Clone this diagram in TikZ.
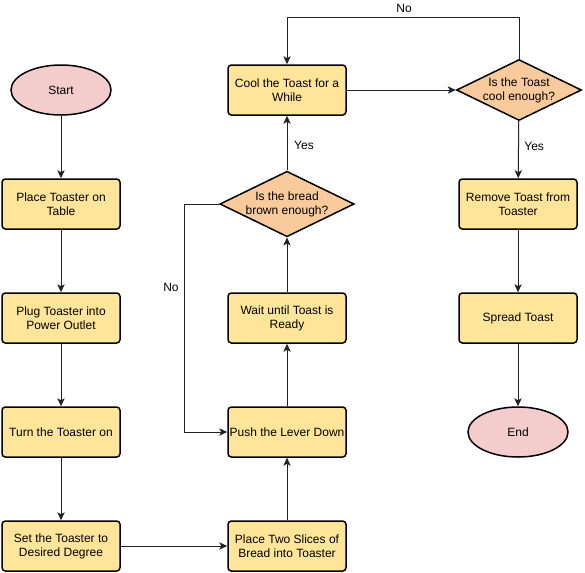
\documentclass[tikz,border=0pt]{standalone}
\usepackage{fontspec}
\setmainfont{Liberation Sans}
\usetikzlibrary{shapes.geometric,arrows.meta}
\definecolor{boxfill}{HTML}{FFE599}
\definecolor{termfill}{HTML}{F4CCCC}
\definecolor{decfill}{HTML}{F9CB9C}
\definecolor{linec}{HTML}{222222}
\tikzset{
  px/.style={x=0.75pt,y=-0.75pt},
  procbox/.style={draw=black,line width=1.5pt*0.75,fill=boxfill,rounded corners=2.5pt,minimum width=118*0.75pt,minimum height=50*0.75pt,align=center,inner sep=0pt,font=\fontsize{9}{10.5}\selectfont},
  termnode/.style={draw=black,line width=1.5pt*0.75,fill=termfill,ellipse,minimum width=100*0.75pt,minimum height=50*0.75pt,inner sep=0pt,font=\fontsize{9}{10.5}\selectfont},
  decnode/.style={draw=black,line width=1.5pt*0.75,fill=decfill,diamond,aspect=2.05,minimum width=125*0.75pt,minimum height=61*0.75pt,inner sep=0pt,align=center,font=\fontsize{9}{10.5}\selectfont},
  conn/.style={draw=linec,line width=0.75pt,-{Stealth[length=6pt,width=5.5pt,inset=1.5pt]}},
  lbl/.style={font=\fontsize{9}{10.5}\selectfont,inner sep=0pt}
}
\begin{document}
\begin{tikzpicture}[px]
\useasboundingbox (0,0) rectangle (585,572);
\node[termnode] (start) at (61,90) {Start};
\node[procbox] (place) at (61,204) {Place Toaster on\\Table};
\node[procbox] (plug) at (61,318) {Plug Toaster into\\Power Outlet};
\node[procbox] (turn) at (61,432) {Turn the Toaster on};
\node[procbox] (set) at (61,546) {Set the Toaster to\\Desired Degree};
\node[procbox] (slices) at (287,546) {Place Two Slices of\\Bread into Toaster};
\node[procbox] (push) at (287,432) {Push the Lever Down};
\node[procbox] (wait) at (287,318) {Wait until Toast is\\Ready};
\node[decnode] (brown) at (287,204) {Is the bread\\brown enough?};
\node[procbox] (cool) at (287,90) {Cool the Toast for a\\While};
\node[decnode] (coolq) at (519,90) {Is the Toast\\cool enough?};
\node[procbox] (remove) at (518,204) {Remove Toast from\\Toaster};
\node[procbox] (spread) at (518,318) {Spread Toast};
\node[termnode] (end) at (518,432) {End};

\coordinate (nl) at (184,204);
\coordinate (nl2) at (184,432);
\coordinate (nt1) at (519,17);
\coordinate (nt2) at (287,17);

\draw[conn] (start) -- (place);
\draw[conn] (place) -- (plug);
\draw[conn] (plug) -- (turn);
\draw[conn] (turn) -- (set);
\draw[conn] (set) -- (slices);
\draw[conn] (slices) -- (push);
\draw[conn] (push) -- (wait);
\draw[conn] (wait) -- (brown);
\draw[conn] (brown) -- node[lbl,right=5pt,pos=0.45]{Yes} (cool);
\draw[conn] (brown.west) -- (nl) -- (nl2) -- (push.west);
\node[lbl] (nolbl1) at (171,287) {No};
\draw[conn] (cool) -- (coolq);
\draw[conn] (coolq.north) -- (nt1) -- (nt2) -- (cool.north);
\node[lbl] (nolbl2) at (404,8) {No};
\draw[conn] (coolq) -- node[lbl,right=4pt,pos=0.45]{Yes} (remove);
\draw[conn] (remove) -- (spread);
\draw[conn] (spread) -- (end);
\end{tikzpicture}
\end{document}
